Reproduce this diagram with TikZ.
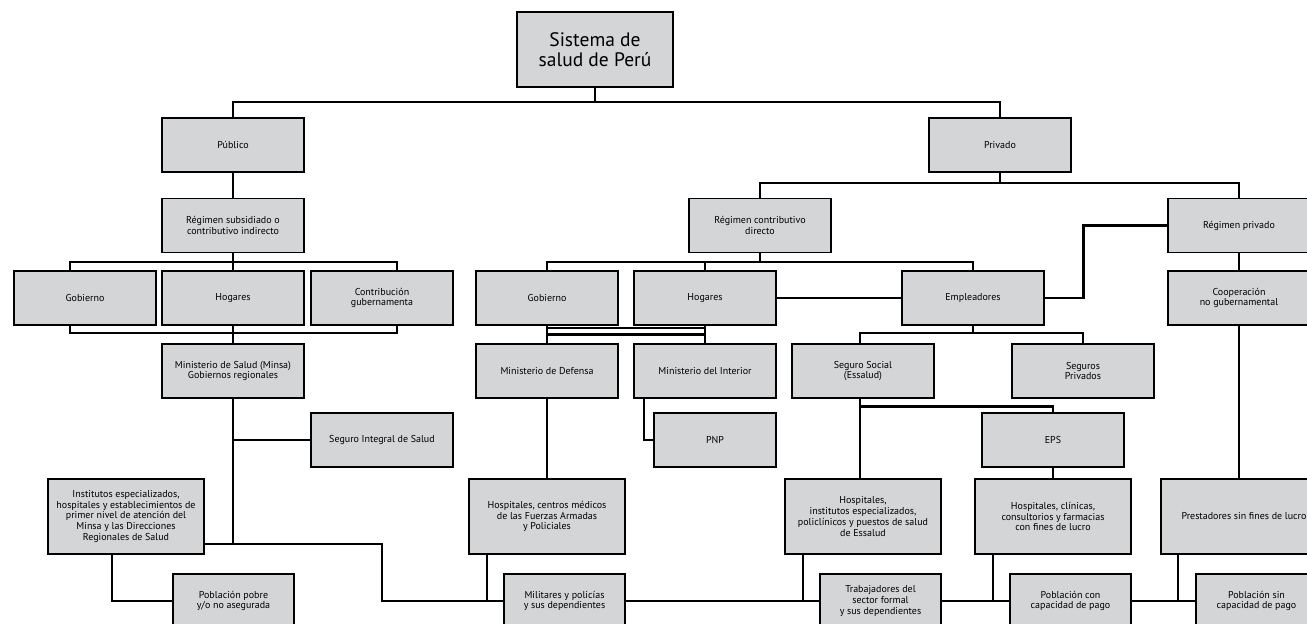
\documentclass[tikz,border=0pt]{standalone}
\usepackage{fontspec}
\setmainfont{PT Sans}
\definecolor{gris}{HTML}{D4D5D7}
\begin{document}
\begin{tikzpicture}[x=1pt,y=-1pt,line join=miter,
  caja/.style={draw=black,fill=gris,line width=1.6pt,minimum width=142pt,minimum height=54pt,
    align=center,inner sep=1pt,text=black,font=\fontsize{10}{10.8}\selectfont},
  ancha/.style={caja,minimum width=156pt,minimum height=75pt},
  baja/.style={caja,minimum width=121pt},
  conn/.style={line width=2.9pt}]
\useasboundingbox (0,0) rectangle (1307,624);
\clip (0,0) rectangle (1307,624);
% cajas
\node[caja,minimum width=156pt,minimum height=75pt,font=\fontsize{19.5}{20.5}\selectfont] (sistema) at (595,49.5) {Sistema de\\salud de Perú};
\foreach \n/\x/\y/\t in {publico/233/145/Público, privado/1000/145/Privado,
  regsub/233/225.5/{Régimen subsidiado o\\contributivo indirecto},
  regcon/760/225.5/{Régimen contributivo\\directo}, regpriv/1239/225.5/Régimen privado,
  gob1/85/298/Gobierno, hog1/233/298/Hogares, contrib/382/298/{Contribución\\gubernamenta},
  gob2/547/298/Gobierno, hog2/705/298/Hogares, empl/973/298/Empleadores,
  coop/1239/298/{Cooperación\\no gubernamental},
  minsa/233/371/{Ministerio de Salud (Minsa)\\Gobiernos regionales},
  mindef/547/371/Ministerio de Defensa, minint/705/371/Ministerio del Interior,
  segsoc/863/371/{Seguro Social\\(Essalud)}, segpriv/1083/371/{Seguros\\Privados},
  sis/382/440/Seguro Integral de Salud, eps/1053/440/EPS}
  {\node[caja] (\n) at (\x,\y) {\t};}
\node[caja,minimum width=122pt] (pnp) at (715,440) {PNP};
\node[ancha] (inst) at (126,516.5) {Institutos especializados,\\hospitales y establecimientos de\\primer nivel de atención del\\Minsa y las Direcciones\\Regionales de Salud};
\node[ancha] (hospffaa) at (547,516.5) {Hospitales, centros médicos\\de las Fuerzas Armadas\\y Policiales};
\node[ancha] (hospess) at (863,516.5) {Hospitales,\\institutos especializados,\\policlínicos y puestos de salud\\de Essalud};
\node[ancha] (hospcli) at (1053,516.5) {Hospitales, clínicas,\\consultorios y farmacias\\con fines de lucro};
\node[ancha,minimum width=166pt] (prest) at (1244,516.5) {Prestadores sin fines de lucro};
\node[baja] (pobpobre) at (233.5,601) {Población pobre\\y/o no asegurada};
\node[baja] (milit) at (564.5,601) {Militares y policías\\y sus dependientes};
\node[baja] (trab) at (880.5,601) {Trabajadores del\\sector formal\\y sus dependientes};
\node[baja] (pobcon) at (1070.5,601) {Población con\\capacidad de pago};
\node[baja] (pobsin) at (1256.5,601) {Población sin\\capacidad de pago};
% uniones
\coordinate (j1) at (595,102);
\coordinate (j2) at (233,262);
\coordinate (j3) at (233,333);
\coordinate (j4) at (233,544);
\coordinate (j5) at (382,601);
\coordinate (j6) at (1000,183);
\coordinate (j7) at (760,262);
\coordinate (j9) at (973,333);
\draw[conn] (sistema.south) -- (j1);
\draw[conn] (publico.north) |- (j1) -| (privado.north);
\draw[conn] (publico.south) -- (regsub.north);
\draw[conn] (regsub.south) -- (hog1.north);
\draw[conn] ([xshift=-15pt]gob1.north) |- (j2) -| ([xshift=15pt]contrib.north);
\draw[conn] ([xshift=-15pt]gob1.south) |- (j3) -| ([xshift=15pt]contrib.south);
\draw[conn] (hog1.south) -- (minsa.north);
\draw[conn] (minsa.south) -- (j4);
\draw[conn] (sis.west) -- (sis.west -| minsa.south);
\draw[conn] (inst.east |- j4) -| (j5) -- (milit.west);
\draw[conn] ([xshift=-14pt]inst.south) |- (pobpobre.west);
\draw[conn] (mindef.south) -- (hospffaa.north);
\draw[conn] ([xshift=-60pt]hospffaa.south) |- (milit.west);
\draw[conn] (privado.south) -- (j6);
\draw[conn] (regcon.north) |- (j6) -| (regpriv.north);
\draw[conn] (regcon.south) -- (j7);
\draw[conn] (gob2.north) |- (j7) -| (empl.north);
\draw[conn] (hog2.north) -- (hog2.north |- j7);
\draw[conn] (hog2.east) -- (empl.west);
\draw[conn] (empl.east) -- ++(39,0) |- (regpriv.west);
\draw[conn] (regpriv.south) -- (coop.north);
\draw[conn] (coop.south) -- (coop.south |- prest.north);
\draw[conn] (gob2.south) -- (mindef.north);
\draw[conn] (hog2.south) -- (minint.north);
\draw[line width=2pt] ([yshift=-2.5pt]gob2.south) -- ([yshift=-2.5pt]hog2.south);
\draw[conn] ([yshift=-9pt]gob2.south) -- ([yshift=-9pt]hog2.south);
\draw[conn] ([xshift=-61pt]minint.south) |- (pnp.west);
\draw[conn] (empl.south) -- (j9);
\draw[conn] ([xshift=-3pt]segsoc.north) |- (j9) -| (segpriv.north);
\draw[conn] ([xshift=-3pt]segsoc.south) -- ([xshift=-3pt]hospess.north);
\draw[conn] ([xshift=-3pt,yshift=-8pt]segsoc.south) -| (eps.north);
\draw[conn] (eps.south) -- (hospcli.north);
\draw[conn] (milit.east) -- (trab.west);
\draw[conn] ([xshift=-60pt]hospess.south) |- (trab.west);
\draw[conn] (trab.east) -- (pobcon.west);
\draw[conn] ([xshift=-60pt]hospcli.south) |- (pobcon.west);
\draw[conn] (pobcon.east) -- (pobsin.west);
\draw[conn] ([xshift=-66pt]prest.south) |- (pobsin.west);
\end{tikzpicture}
\end{document}
